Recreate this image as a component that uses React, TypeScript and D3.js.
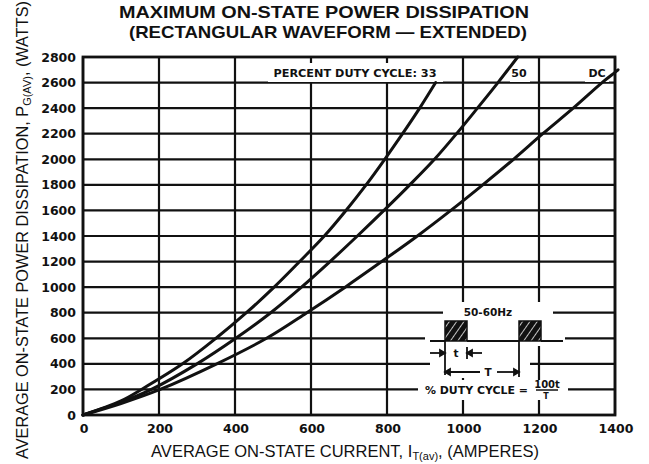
import React from "react";
import * as d3 from "d3";

// ---- data ----
const xTicks = [0, 200, 400, 600, 800, 1000, 1200, 1400];
const yTicks = [0, 200, 400, 600, 800, 1000, 1200, 1400, 1600, 1800, 2000, 2200, 2400, 2600, 2800];

// Percent duty cycle 33
const duty33Current = [0, 100, 154, 262, 350, 430, 503, 570, 635, 692, 745, 794, 841, 886, 928];
const duty33Power = [0, 110, 200, 400, 600, 800, 1000, 1200, 1400, 1600, 1800, 2000, 2200, 2400, 2600];

// Percent duty cycle 50
const duty50Current = [0, 100, 180, 300, 402, 494, 575, 650, 722, 792, 860, 925, 983, 1038, 1092, 1144];
const duty50Power = [0, 100, 200, 400, 600, 800, 1000, 1200, 1400, 1600, 1800, 2000, 2200, 2400, 2600, 2800];

// DC
const dcCurrent = [0, 100, 203, 352, 483, 589, 690, 786, 880, 968, 1052, 1133, 1210, 1290, 1366, 1400, 1408];
const dcPower = [0, 90, 200, 400, 600, 800, 1000, 1200, 1400, 1600, 1800, 2000, 2200, 2400, 2600, 2680, 2700];

const W = 649;
const H = 464;

export default function App() {
  const x = d3.scaleLinear().domain([0, 1400]).range([83, 615]);
  const y = d3.scaleLinear().domain([0, 2800]).range([415, 57]);

  const line = d3
    .line<[number, number]>()
    .x((d) => x(d[0]))
    .y((d) => y(d[1]))
    .curve(d3.curveCatmullRom.alpha(0.5));

  const series = [
    { c: duty33Current, p: duty33Power },
    { c: duty50Current, p: duty50Power },
    { c: dcCurrent, p: dcPower },
  ];

  const tickFont = "'DejaVu Sans', sans-serif";
  const sans = "'Liberation Sans', Arial, sans-serif";

  // inset anchor (annotation only)
  const ix = 445;
  const iy = 341;

  return (
    <svg
      width={W}
      height={H}
      viewBox={`0 0 ${W} ${H}`}
      style={{ position: "absolute", left: 0, top: 0, background: "#fff" }}
    >
      <defs>
        <pattern id="hatch" width="6" height="6" patternUnits="userSpaceOnUse" patternTransform="rotate(35)">
          <rect width="6" height="6" fill="#111" />
          <line x1="0" y1="0" x2="0" y2="6" stroke="#fff" strokeWidth="1.5" />
        </pattern>
      </defs>
      <rect x={0} y={0} width={W} height={H} fill="#fff" />

      {/* Title */}
      <text x={324} y={18} textAnchor="middle" fontFamily={sans} fontWeight="bold" fontSize={17} textLength={410} lengthAdjust="spacingAndGlyphs" fill="#111">
        MAXIMUM ON-STATE POWER DISSIPATION
      </text>
      <text x={328} y={38} textAnchor="middle" fontFamily={sans} fontWeight="bold" fontSize={17} textLength={398} lengthAdjust="spacingAndGlyphs" fill="#111">
        (RECTANGULAR WAVEFORM — EXTENDED)
      </text>

      {/* grid */}
      <g stroke="#111" strokeWidth={2.2}>
        {yTicks.map((t) => (
          <line key={"h" + t} x1={x(0)} x2={x(1400)} y1={y(t)} y2={y(t)} />
        ))}
        {xTicks.map((t) => (
          <line key={"v" + t} x1={x(t)} x2={x(t)} y1={y(0)} y2={y(2800)} />
        ))}
      </g>
      <rect x={x(0)} y={y(2800)} width={x(1400) - x(0)} height={y(0) - y(2800)} fill="none" stroke="#111" strokeWidth={2.8} />

      {/* white label backgrounds */}
      <g fill="#fff">
        <rect x={268} y={63} width={175} height={19} />
        <rect x={510} y={63} width={20} height={19} />
        <rect x={585} y={63} width={24} height={19} />
        {/* inset */}
        <rect x={470} y={302} width={40} height={16} />
        <rect x={425} y={318} width={140} height={28} />
        <rect x={430} y={346} width={100} height={32} />
        <rect x={418} y={380} width={150} height={20} />
        <rect x={443} y={302} width={110} height={16} />
      </g>

      {/* curves */}
      <g fill="none" stroke="#111" strokeWidth={3} strokeLinecap="round">
        {series.map((s, i) => (
          <path key={i} d={line(s.c.map((c, k) => [c, s.p[k]] as [number, number])) || ""} />
        ))}
      </g>

      {/* in-plot labels */}
      <text x={355} y={77} textAnchor="middle" fontFamily={tickFont} fontWeight="bold" fontSize={11} textLength={163} lengthAdjust="spacingAndGlyphs" fill="#111">
        PERCENT DUTY CYCLE: 33
      </text>
      <text x={519} y={77} textAnchor="middle" fontFamily={tickFont} fontWeight="bold" fontSize={11} fill="#111">
        50
      </text>
      <text x={597} y={77} textAnchor="middle" fontFamily={tickFont} fontWeight="bold" fontSize={11} fill="#111">
        DC
      </text>

      {/* inset waveform */}
      <text x={488} y={316} textAnchor="middle" fontFamily={tickFont} fontWeight="bold" fontSize={10.5} fill="#111">
        50-60Hz
      </text>
      <g stroke="#111" strokeWidth={2} fill="none">
        <path d={`M${ix - 15},${iy} H${ix}`} />
        <path d={`M${ix + 22},${iy} H${ix + 74}`} />
        <path d={`M${ix + 96},${iy} H${ix + 118}`} />
      </g>
      <rect x={ix} y={iy - 20} width={22} height={20} fill="url(#hatch)" stroke="#111" strokeWidth={1.5} />
      <rect x={ix + 74} y={iy - 20} width={22} height={20} fill="url(#hatch)" stroke="#111" strokeWidth={1.5} />
      <g stroke="#111" strokeWidth={1.8} fill="#111">
        {/* t markers */}
        <line x1={ix} x2={ix} y1={iy} y2={iy + 34} />
        <line x1={ix + 22} x2={ix + 22} y1={iy + 6} y2={iy + 18} />
        <line x1={ix + 74} x2={ix + 74} y1={iy} y2={iy + 36} />
        <line x1={ix - 15} x2={ix - 2} y1={iy + 12} y2={iy + 12} />
        <path d={`M${ix},${iy + 12} l-5,-3 v6 z`} />
        <line x1={ix + 24} x2={ix + 37} y1={iy + 12} y2={iy + 12} />
        <path d={`M${ix + 22},${iy + 12} l5,-3 v6 z`} />
        {/* T markers */}
        <line x1={ix + 2} x2={ix + 35} y1={iy + 31} y2={iy + 31} />
        <path d={`M${ix},${iy + 31} l5,-3 v6 z`} />
        <line x1={ix + 52} x2={ix + 72} y1={iy + 31} y2={iy + 31} />
        <path d={`M${ix + 74},${iy + 31} l-5,-3 v6 z`} />
      </g>
      <text x={ix + 11} y={iy + 16} textAnchor="middle" fontFamily={tickFont} fontWeight="bold" fontSize={10.5} fill="#111">
        t
      </text>
      <text x={ix + 43} y={iy + 35} textAnchor="middle" fontFamily={tickFont} fontWeight="bold" fontSize={10.5} fill="#111">
        T
      </text>
      <text x={425} y={iy + 53} fontFamily={tickFont} fontWeight="bold" fontSize={10.5} textLength={103} lengthAdjust="spacingAndGlyphs" fill="#111">
        % DUTY CYCLE =
      </text>
      <text x={547} y={iy + 47} textAnchor="middle" fontFamily={tickFont} fontWeight="bold" fontSize={10} fill="#111">
        100t
      </text>
      <line x1={536} x2={558} y1={iy + 49} y2={iy + 49} stroke="#111" strokeWidth={1.5} />
      <text x={546} y={iy + 58} textAnchor="middle" fontFamily={tickFont} fontWeight="bold" fontSize={8} fill="#111">
        T
      </text>

      {/* y tick labels */}
      {yTicks.map((t) => (
        <text key={"yl" + t} x={76} y={y(t) + 4.5} textAnchor="end" fontFamily={tickFont} fontWeight="bold" fontSize={12.5} fill="#111">
          {t}
        </text>
      ))}
      {/* x tick labels */}
      {xTicks.map((t) => (
        <text key={"xl" + t} x={x(t) + 1} y={433} textAnchor="middle" fontFamily={tickFont} fontWeight="bold" fontSize={12.5} fill="#111">
          {t}
        </text>
      ))}

      {/* axis titles */}
      <text x={345} y={457} textAnchor="middle" fontFamily={sans} fontSize={16.5} fill="#111">
        AVERAGE ON-STATE CURRENT, I
        <tspan fontSize={11} dy={3}>T(av)</tspan>
        <tspan dy={-3}>, (AMPERES)</tspan>
      </text>
      <text transform="translate(28,230) rotate(-90)" textAnchor="middle" fontFamily={sans} fontSize={16.3} fill="#111">
        AVERAGE ON-STATE POWER DISSIPATION, P
        <tspan fontSize={11} dy={3}>G(AV)</tspan>
        <tspan dy={-3}>, (WATTS)</tspan>
      </text>
    </svg>
  );
}
